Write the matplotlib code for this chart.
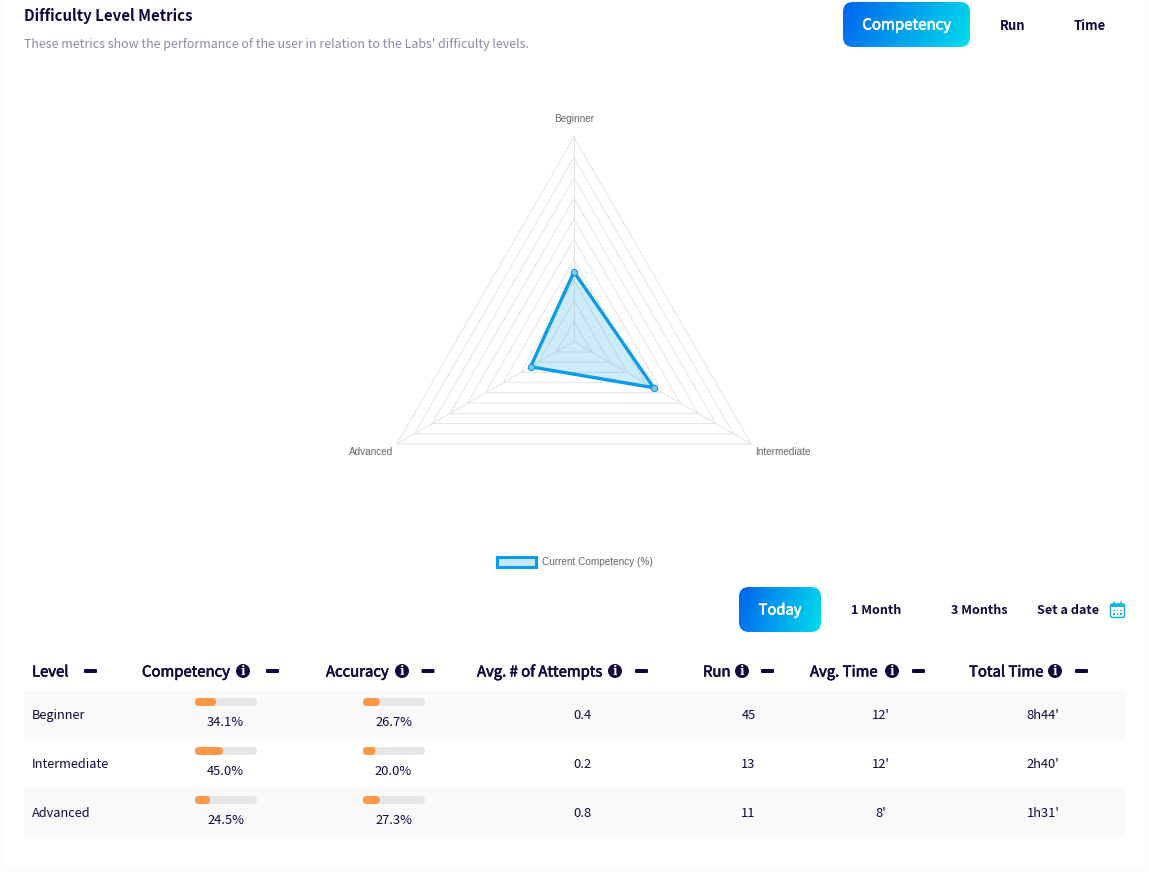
import numpy as np
import matplotlib
matplotlib.use('Agg')
import matplotlib.pyplot as plt
import matplotlib.patheffects as pe
from matplotlib.patches import FancyBboxPatch, Circle, Rectangle
from matplotlib.colors import LinearSegmentedColormap

# Data
levels = ['Beginner', 'Intermediate', 'Advanced']
competency = [34.1, 45.0, 24.5]
accuracy = [26.7, 20.0, 27.3]
attempts = ['0.4', '0.2', '0.8']
runs = ['45', '13', '11']
avg_time = ["12'", "12'", "8'"]
total_time = ["8h44'", "2h40'", "1h31'"]
radar_ticks = [10, 20, 30, 40, 50, 60, 70, 80, 90, 100]
headers = ['Level', 'Competency', 'Accuracy', 'Avg. # of Attempts', 'Run', 'Avg. Time', 'Total Time']
header_x = [32, 142, 326, 477, 703, 810, 969]
info_x = [None, 243, 402, 615, 742, 892, 1055]
minus_x = [90.5, 272.5, 428, 641.5, 767.5, 918.5, 1081.5]

DARK = '#14073f'
SANS = ['Noto Sans CJK SC', 'DejaVu Sans']
W, H = 1149, 872

fig = plt.figure(figsize=(W / 100, H / 100), dpi=100, facecolor='#fcfcfc')
ax = fig.add_axes([0, 0, 1, 1])
ax.set_xlim(0, W)
ax.set_ylim(H, 0)
ax.axis('off')

grad_cmap = LinearSegmentedColormap.from_list('btn', ['#0063ee', '#00deeb'])


def txt(x, y, s, size=10, color=DARK, weight='normal', ha='left', family=SANS, semi=False):
    t = ax.text(x, y, s, fontsize=size, color=color, fontweight=weight, ha=ha, va='center', family=family)
    if semi:
        # no semibold face installed, thicken the regular one
        t.set_path_effects([pe.withStroke(linewidth=0.45, foreground=color)])
    return t


def rounded(x, y, w, h, r, **kw):
    p = FancyBboxPatch((x + r, y + r), max(w - 2 * r, 0.01), h - 2 * r,
                       boxstyle='round,pad=%f,rounding_size=%f' % (r, r), linewidth=0, **kw)
    ax.add_patch(p)
    return p


def grad_button(x, y, w, h, label, size):
    p = rounded(x, y, w, h, 10, facecolor='none')
    xx, yy = np.meshgrid(np.linspace(0, 1, 200), np.linspace(0, 1, 60))
    im = ax.imshow(0.85 * xx + 0.15 * yy, cmap=grad_cmap, extent=(x, x + w, y + h, y), aspect='auto', zorder=2)
    im.set_clip_path(p)
    t = txt(x + w / 2, y + h / 2 + 1, label, size=size, color='white', ha='center', semi=True)
    t.set_zorder(3)


# page card
rounded(4, -30, 1141, 900, 10, facecolor='white')

# top header
txt(24, 16, 'Difficulty Level Metrics', size=10.8, weight='bold')
txt(24, 44.5, "These metrics show the performance of the user in relation to the Labs' difficulty levels.",
    size=8.98, color='#8d89a6')
grad_button(843, 2, 127, 45, 'Competency', 10.8)
txt(1012.5, 25.5, 'Run', size=9.4, weight='bold', ha='center')
txt(1090, 25.5, 'Time', size=9.4, weight='bold', ha='center')

# period selector
grad_button(739, 587, 82, 45, 'Today', 10.6)
txt(876, 610, '1 Month', size=9.1, weight='bold', ha='center')
txt(979, 610, '3 Months', size=9.1, weight='bold', ha='center')
txt(1068.5, 610, 'Set a date', size=9.1, weight='bold', ha='center')

# calendar icon
CAL = '#12b5e8'
ax.add_patch(FancyBboxPatch((1110.5, 604), 14, 13.5, boxstyle='round,pad=0,rounding_size=2',
                            facecolor='white', edgecolor=CAL, linewidth=1.1))
ax.add_patch(Rectangle((1110.5, 604), 14, 3, facecolor=CAL, linewidth=0))
for cx in [1114, 1121]:
    ax.plot([cx, cx], [602, 605], color=CAL, linewidth=1.1, solid_capstyle='round')
for cy in [610.5, 614]:
    for cx in [1114, 1117.5, 1121]:
        ax.add_patch(Rectangle((cx - 0.8, cy - 0.8), 1.6, 1.6, facecolor=CAL, linewidth=0))

# table rows
for i, y in enumerate([690, 739, 788]):
    ax.add_patch(Rectangle((24, y), 1101, 49, facecolor='#f9f9f9' if i != 1 else 'white', linewidth=0))

# table header
for name, hx, ix, mx in zip(headers, header_x, info_x, minus_x):
    txt(hx, 672.5, name, size=10.7, semi=True)
    if ix is not None:
        ax.add_patch(Circle((ix, 671), 7, facecolor=DARK, linewidth=0))
        ax.text(ix, 671, 'i', color='white', fontsize=8.5, fontweight='bold', ha='center', va='center',
                family='DejaVu Serif')
    rounded(mx - 6.5, 669, 13, 4, 1, facecolor=DARK)

# table body
bar_w = 62
for i, level in enumerate(levels):
    yc = 715.5 + 49 * i
    by = 698 + 49 * i
    txt(32, yc, level, size=9.2)
    for bx, vals, tx in [(195, competency, 225.5), (363, accuracy, 393.5)]:
        rounded(bx, by, bar_w, 8, 4, facecolor='#e6e6e6')
        rounded(bx, by, bar_w * vals[i] / 100, 8, 4, facecolor='#ff9748')
        txt(tx, by + 24, '%.1f%%' % vals[i], size=9.3, ha='center')
    txt(582, yc, attempts[i], size=9.3, ha='center')
    txt(748.5, yc, runs[i], size=9.3, ha='center')
    txt(881, yc, avg_time[i], size=9.3, ha='center')
    txt(1043, yc, total_time[i], size=9.3, ha='center')

# radar
cx, cy, rad = 574, 341.7, 204.7
rax = fig.add_axes([(cx - rad) / W, (H - cy - rad) / H, 2 * rad / W, 2 * rad / H], polar=True)
rax.patch.set_alpha(0)
rax.set_theta_zero_location('N')
rax.set_theta_direction(-1)
rax.set_ylim(0, 100)
rax.axis('off')
theta = np.deg2rad([0, 120, 240])
tc = np.append(theta, theta[0])
for r in radar_ticks:
    rax.plot(tc, [r] * 4, color='#e5e5e5', linewidth=0.72, clip_on=False, zorder=1)
for t in theta:
    rax.plot([t, t], [0, 100], color='#e5e5e5', linewidth=0.72, clip_on=False, zorder=1)
vals = competency + competency[:1]
rax.fill(tc, vals, facecolor='#0a9bea', alpha=0.2, linewidth=0, zorder=2)
rax.plot(tc, vals, color='#0a9bea', linewidth=2.4, zorder=3)
rax.plot(theta, competency, linestyle='none', marker='o', markersize=4.5, markerfacecolor='#7cc8f4',
         markeredgecolor='#0a9bea', markeredgewidth=0.8, zorder=4)

LBL = ['Liberation Sans']
txt(574, 118.5, levels[0], size=7.2, color='#666666', ha='center', family=LBL)
txt(755, 452, levels[1], size=7.2, color='#666666', family=LBL)
txt(393, 452, levels[2], size=7.2, color='#666666', ha='right', family=LBL)

# legend
ax.add_patch(Rectangle((497, 557), 39, 10, facecolor='#c9e6fb', edgecolor='#0a9bea', linewidth=2.2))
txt(542, 561.5, 'Current Competency (%)', size=7.2, color='#666666', family=LBL)

fig.savefig('out.png', dpi=100, facecolor=fig.get_facecolor())
